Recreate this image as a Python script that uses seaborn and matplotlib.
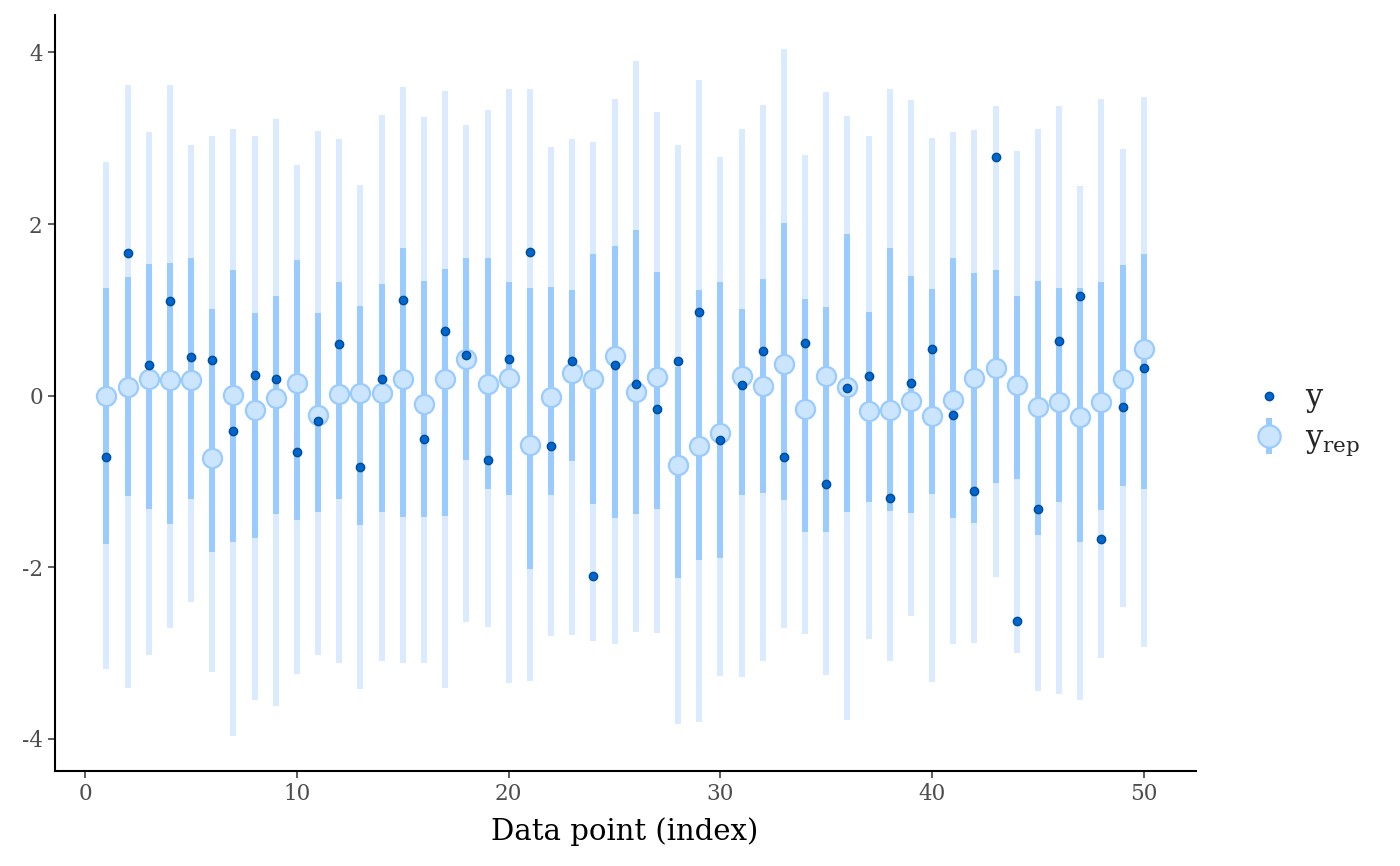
import numpy as np
import pandas as pd
import matplotlib
matplotlib.use("Agg")
import matplotlib.pyplot as plt
import seaborn as sns
from matplotlib.lines import Line2D
from matplotlib.legend_handler import HandlerTuple

idx = list(range(1, 51))
y_obs = [-0.71, 1.66, 0.36, 1.10, 0.45, 0.42, -0.41, 0.24, 0.19, -0.66,
         -0.30, 0.60, -0.83, 0.19, 1.11, -0.51, 0.75, 0.47, -0.75, 0.43,
         1.67, -0.58, 0.41, -2.10, 0.36, 0.14, -0.16, 0.41, 0.98, -0.52,
         0.13, 0.52, -0.71, 0.61, -1.03, 0.09, 0.23, -1.19, 0.15, 0.55,
         -0.22, -1.11, 2.78, -2.62, -1.32, 0.64, 1.16, -1.67, -0.13, 0.32]
med = [0.00, 0.10, 0.19, 0.18, 0.18, -0.73, 0.01, -0.17, -0.03, 0.15,
       -0.23, 0.02, 0.03, 0.03, 0.20, -0.10, 0.19, 0.43, 0.14, 0.21,
       -0.57, -0.02, 0.27, 0.20, 0.46, 0.04, 0.22, -0.81, -0.58, -0.44,
       0.23, 0.11, 0.37, -0.15, 0.23, 0.10, -0.18, -0.17, -0.06, -0.24,
       -0.05, 0.21, 0.32, 0.12, -0.13, -0.07, -0.25, -0.07, 0.19, 0.54]
inner_lo = [-1.73, -1.17, -1.32, -1.50, -1.20, -1.82, -1.71, -1.66, -1.38, -1.45,
            -1.35, -1.20, -1.51, -1.36, -1.41, -1.41, -1.40, -0.75, -1.09, -1.16,
            -2.02, -1.16, -0.76, -1.26, -1.42, -1.38, -1.32, -2.12, -1.92, -1.89,
            -1.16, -1.13, -1.22, -1.59, -1.59, -1.35, -1.24, -1.34, -1.37, -1.15,
            -1.42, -1.48, -1.02, -0.97, -1.62, -1.24, -1.70, -1.33, -1.05, -1.09]
inner_hi = [1.25, 1.38, 1.54, 1.55, 1.61, 1.01, 1.47, 0.96, 1.16, 1.58,
            0.96, 1.33, 1.05, 1.30, 1.72, 1.34, 1.48, 1.60, 1.61, 1.33,
            1.26, 1.27, 1.23, 1.65, 1.75, 1.93, 1.44, 0.34, 1.23, 1.33,
            1.01, 1.36, 2.01, 1.13, 1.03, 1.88, 0.98, 1.72, 1.40, 1.24,
            1.61, 1.43, 1.47, 1.16, 1.34, 1.25, 1.26, 1.32, 1.52, 1.65]
outer_lo = [-3.18, -3.40, -3.02, -2.71, -2.40, -3.22, -3.97, -3.55, -3.61, -3.24,
            -3.02, -3.12, -3.42, -3.09, -3.11, -3.11, -3.41, -2.64, -2.70, -3.35,
            -3.33, -2.80, -2.79, -2.86, -2.89, -2.75, -2.77, -3.83, -3.80, -3.27,
            -3.28, -3.09, -2.71, -2.78, -3.25, -3.78, -2.83, -3.09, -2.57, -3.34,
            -2.89, -2.88, -2.11, -3.00, -3.44, -3.47, -3.55, -3.06, -2.46, -2.93]
outer_hi = [2.72, 3.62, 3.07, 3.62, 2.92, 3.03, 3.11, 3.03, 3.22, 2.69,
            3.09, 2.99, 2.46, 3.27, 3.60, 3.25, 3.55, 3.15, 3.33, 3.58,
            3.57, 2.90, 2.99, 2.96, 3.46, 3.90, 3.31, 2.92, 3.68, 2.78,
            3.11, 3.39, 4.04, 2.80, 3.54, 3.26, 3.03, 3.57, 3.45, 3.00,
            3.07, 3.10, 3.38, 2.85, 3.11, 3.38, 2.44, 3.46, 2.88, 3.48]

df = pd.DataFrame({"x": idx, "y": y_obs, "m": med,
                   "lo50": inner_lo, "hi50": inner_hi,
                   "lo90": outer_lo, "hi90": outer_hi})

c_light = "#daebff"
c_light_hl = "#99cbff"
c_med = "#cce5ff"
c_dark = "#0065cc"
c_darkest = "#004c99"

sns.set_theme(style="ticks")
plt.rcParams["font.family"] = ["DejaVu Serif"]
plt.rcParams["mathtext.fontset"] = "dejavuserif"
plt.rcParams["axes.unicode_minus"] = False

fig = plt.figure(figsize=(14, 8.66), dpi=100)
ax = fig.add_axes([0.039, 0.110, 0.815, 0.873])

ax.vlines(df["x"], df["lo90"], df["hi90"], color=c_light, linewidth=4.3, zorder=1)
ax.vlines(df["x"], df["lo50"], df["hi50"], color=c_light_hl, linewidth=4.3, zorder=2)
sns.scatterplot(data=df, x="x", y="m", ax=ax, s=190, color=c_med,
                edgecolor=c_light_hl, linewidth=1.6, zorder=3, legend=False)
sns.scatterplot(data=df, x="x", y="y", ax=ax, s=36, color=c_dark,
                edgecolor=c_darkest, linewidth=1.0, zorder=4, legend=False)

ax.set_xlim(-1.45, 52.45)
ax.set_ylim(-4.37, 4.44)
ax.set_xticks([0, 10, 20, 30, 40, 50])
ax.set_yticks([-4, -2, 0, 2, 4])
ax.set_xlabel("Data point (index)", fontsize=21, color="black", labelpad=9)
ax.set_ylabel("")
ax.tick_params(labelsize=15.5, labelcolor="#4d4d4d", color="#333333",
               length=5, width=1.1)
for s in ["top", "right"]:
    ax.spines[s].set_visible(False)
for s in ["left", "bottom"]:
    ax.spines[s].set_color("black")
    ax.spines[s].set_linewidth(1.5)

h_y = Line2D([], [], linestyle="none", marker="o", markersize=6,
             markerfacecolor=c_dark, markeredgecolor=c_darkest)
h_bar = Line2D([], [], linestyle="none", marker="|", markersize=26,
               markeredgewidth=4.3, color=c_light_hl)
h_pt = Line2D([], [], linestyle="none", marker="o", markersize=16,
              markerfacecolor=c_med, markeredgecolor=c_light_hl, markeredgewidth=1.6)
ax.legend([h_y, (h_bar, h_pt)], ["y", r"$\mathrm{y}_{\mathrm{rep}}$"],
          handler_map={tuple: HandlerTuple(ndivide=1, pad=0)},
          loc="center left", bbox_to_anchor=(1.024, 0.464), frameon=False,
          fontsize=22, handlelength=1.2, handletextpad=0.6, labelspacing=0.3)

fig.savefig("out.png", dpi=100)
